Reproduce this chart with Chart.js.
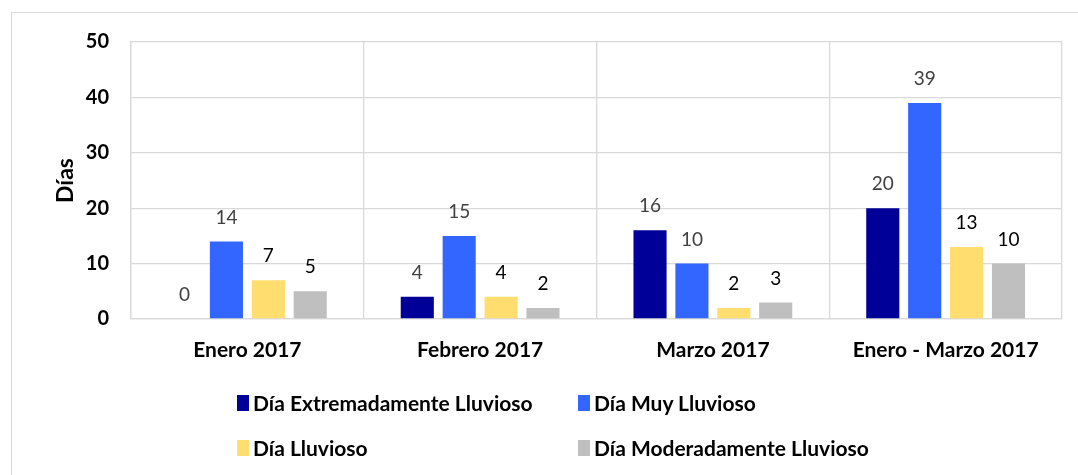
<!DOCTYPE html>
<html>
<head>
<meta charset="utf-8">
<script src="https://cdn.jsdelivr.net/npm/chart.js@4.4.1/dist/chart.umd.min.js"></script>
<style>
  html, body { margin: 0; padding: 0; background: #fff; }
  #wrap { position: relative; width: 1078px; height: 475px; overflow: hidden; }
  #frame {
    position: absolute; left: 11px; top: 12px; width: 1200px; height: 600px;
    border-left: 1px solid #d9d9d9; border-top: 1px solid #d9d9d9;
  }
  canvas { position: absolute; left: 0; top: 0; }
  #legend {
    position: absolute; left: 237px; top: 392px;
    display: grid; grid-template-columns: 341px auto; row-gap: 24px;
    font-family: Lato, "Open Sans", sans-serif; font-weight: bold; font-size: 21px; color: #000;
  }
  .item { display: flex; align-items: center; height: 21px; white-space: nowrap; }
  .box { width: 12px; height: 16px; margin-right: 4px; }
</style>
</head>
<body>
<div id="wrap">
  <div id="frame"></div>
  <canvas id="chart" width="1078" height="475"></canvas>
  <div id="legend"></div>
</div>
<script>
/* ── Data ──────────────────────────────────────────────── */
const categories = ["Enero 2017", "Febrero 2017", "Marzo 2017", "Enero - Marzo 2017"];
const seriesNames = [
  "Día Extremadamente Lluvioso",
  "Día Muy Lluvioso",
  "Día Lluvioso",
  "Día Moderadamente Lluvioso",
];
const extremadamente = [0, 4, 16, 20];
const muy = [14, 15, 10, 39];
const lluvioso = [7, 4, 2, 13];
const moderadamente = [5, 2, 3, 10];
const yTicks = [0, 10, 20, 30, 40, 50];

const colours = ["#000099", "#3366ff", "#ffdd6e", "#bfbfbf"];
const labelColours = ["#404040", "#404040", "#000000", "#000000"];

const FONT = "Lato, 'Open Sans', sans-serif";
Chart.defaults.font.family = FONT;

/* ── Value labels above each bar ───────────────────────── */
const valueLabels = {
  id: "valueLabels",
  afterDatasetsDraw(chart) {
    const ctx = chart.ctx;
    ctx.save();
    ctx.font = `19px ${FONT}`;
    ctx.textAlign = "center";
    ctx.textBaseline = "middle";
    chart.data.datasets.forEach((ds, di) => {
      const meta = chart.getDatasetMeta(di);
      ctx.fillStyle = labelColours[di];
      meta.data.forEach((bar, i) => {
        ctx.fillText(String(ds.data[i]), bar.x, bar.y - 24);
      });
    });
    ctx.restore();
  },
};

const seriesData = [extremadamente, muy, lluvioso, moderadamente];

const chart = new Chart(document.getElementById("chart"), {
  type: "bar",
  data: {
    labels: categories,
    datasets: seriesData.map((d, i) => ({
      label: seriesNames[i],
      data: d,
      backgroundColor: colours[i],
      categoryPercentage: 0.72,
      barPercentage: 0.79,
    })),
  },
  options: {
    responsive: false,
    animation: false,
    layout: { padding: { left: 52, right: 16, top: 42, bottom: 116 } },
    plugins: { legend: { display: false }, tooltip: { enabled: false } },
    scales: {
      x: {
        grid: { color: "#d9d9d9", lineWidth: 1.3, drawTicks: false, offset: true },
        border: { color: "#d9d9d9", width: 1.3 },
        ticks: { color: "#000", font: { size: 21, weight: "bold" }, padding: 19 },
        afterFit: (s) => { s.height = 40; },
      },
      y: {
        min: 0,
        max: 50,
        afterBuildTicks: (s) => { s.ticks = yTicks.map((v) => ({ value: v })); },
        grid: { color: "#d9d9d9", lineWidth: 1.3, drawTicks: false },
        border: { color: "#d9d9d9", width: 1.3 },
        ticks: { color: "#000", font: { size: 20, weight: "bold" }, padding: 22 },
        title: { display: true, text: "Días", color: "#000", font: { size: 23, weight: "bold" }, padding: 0 },
        afterFit: (s) => { s.width = 79; },
      },
    },
  },
  plugins: [valueLabels],
});

/* ── Legend (two aligned columns) ──────────────────────── */
const legendEl = document.getElementById("legend");
chart.data.datasets.forEach((ds) => {
  const item = document.createElement("div");
  item.className = "item";
  const box = document.createElement("span");
  box.className = "box";
  box.style.background = ds.backgroundColor;
  const txt = document.createElement("span");
  txt.textContent = ds.label;
  item.append(box, txt);
  legendEl.append(item);
});
</script>
</body>
</html>
